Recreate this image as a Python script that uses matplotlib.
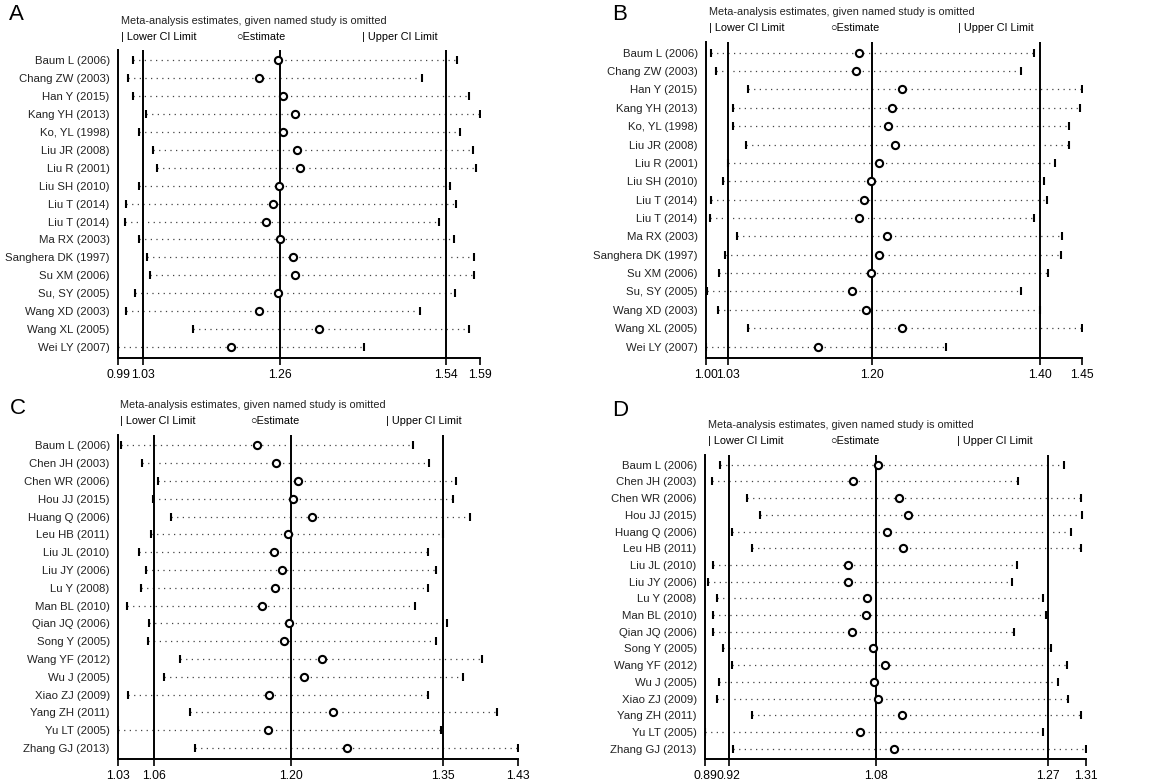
import matplotlib
matplotlib.use('Agg')
import matplotlib.pyplot as plt
import numpy as np

plt.rcParams['font.family'] = ['Liberation Sans', 'DejaVu Sans']

W, H = 1156, 784

# ---- panel A ----
studies_a = ['Baum L (2006)', 'Chang ZW (2003)', 'Han Y (2015)', 'Kang YH (2013)', 'Ko, YL (1998)',
             'Liu JR (2008)', 'Liu R (2001)', 'Liu SH (2010)', 'Liu T (2014)', 'Liu T (2014)',
             'Ma RX (2003)', 'Sanghera DK (1997)', 'Su XM (2006)', 'Su, SY (2005)', 'Wang XD (2003)',
             'Wang XL (2005)', 'Wei LY (2007)']
lower_a = [1.019, 1.010, 1.019, 1.040, 1.029, 1.052, 1.059, 1.029, 1.007, 1.005,
           1.029, 1.042, 1.047, 1.022, 1.007, 1.118, 0.994]
est_a = [1.259, 1.228, 1.268, 1.288, 1.268, 1.291, 1.296, 1.261, 1.251, 1.240,
         1.263, 1.284, 1.288, 1.259, 1.228, 1.327, 1.181]
upper_a = [1.557, 1.498, 1.577, 1.595, 1.562, 1.583, 1.588, 1.545, 1.555, 1.527,
           1.552, 1.585, 1.585, 1.553, 1.495, 1.577, 1.402]
overall_a = [1.035, 1.263, 1.538]
range_a = [0.994, 1.595]

# ---- panel B ----
studies_b = studies_a
lower_b = [1.007, 1.013, 1.051, 1.033, 1.033, 1.049, 1.027, 1.021, 1.007, 1.006,
           1.038, 1.024, 1.017, 1.002, 1.015, 1.051, 1.001]
est_b = [1.185, 1.181, 1.236, 1.224, 1.219, 1.228, 1.209, 1.199, 1.191, 1.185,
         1.218, 1.209, 1.199, 1.176, 1.193, 1.236, 1.135]
upper_b = [1.395, 1.379, 1.452, 1.450, 1.437, 1.437, 1.420, 1.407, 1.410, 1.395,
           1.428, 1.427, 1.411, 1.379, 1.402, 1.452, 1.289]
overall_b = [1.027, 1.200, 1.402]
range_b = [1.001, 1.452]

# ---- panel C ----
studies_c = ['Baum L (2006)', 'Chen JH (2003)', 'Chen WR (2006)', 'Hou JJ (2015)', 'Huang Q (2006)',
             'Leu HB (2011)', 'Liu JL (2010)', 'Liu JY (2006)', 'Lu Y (2008)', 'Man BL (2010)',
             'Qian JQ (2006)', 'Song Y (2005)', 'Wang YF (2012)', 'Wu J (2005)', 'Xiao ZJ (2009)',
             'Yang ZH (2011)', 'Yu LT (2005)', 'Zhang GJ (2013)']
lower_c = [1.030, 1.051, 1.067, 1.062, 1.080, 1.060, 1.048, 1.055, 1.050, 1.036,
           1.058, 1.057, 1.089, 1.073, 1.037, 1.099, 1.027, 1.104]
est_c = [1.166, 1.185, 1.207, 1.202, 1.221, 1.197, 1.183, 1.191, 1.184, 1.171,
         1.198, 1.193, 1.231, 1.213, 1.178, 1.242, 1.177, 1.256]
upper_c = [1.322, 1.338, 1.365, 1.362, 1.379, 1.352, 1.337, 1.345, 1.337, 1.324,
           1.356, 1.345, 1.391, 1.372, 1.337, 1.406, 1.350, 1.427]
overall_c = [1.063, 1.200, 1.352]
range_c = [1.027, 1.427]

# ---- panel D ----
studies_d = studies_c
lower_d = [0.909, 0.900, 0.938, 0.953, 0.922, 0.944, 0.901, 0.895, 0.905, 0.901,
           0.901, 0.912, 0.922, 0.907, 0.905, 0.944, 0.892, 0.923]
est_d = [1.082, 1.055, 1.105, 1.115, 1.092, 1.110, 1.049, 1.049, 1.070, 1.069,
         1.054, 1.077, 1.090, 1.078, 1.082, 1.109, 1.063, 1.100]
upper_d = [1.287, 1.236, 1.305, 1.307, 1.295, 1.305, 1.235, 1.230, 1.264, 1.267,
           1.232, 1.272, 1.290, 1.280, 1.291, 1.305, 1.264, 1.311]
overall_d = [0.918, 1.080, 1.269]
range_d = [0.892, 1.311]


def fx(px):
    return px / W


def fy(py):
    return 1 - py / H


def draw_panel(fig, box, letter, letter_xy, title_xy, legend_x, studies, lower, est, upper, overall, xr):
    left, top, right, bottom = box
    ax = fig.add_axes([fx(left), fy(bottom), fx(right - left), (bottom - top) / H])
    n = len(studies)
    y = np.arange(n)
    for i in range(n):
        ax.plot([lower[i], upper[i]], [y[i], y[i]], color='#444444', lw=0.9,
                linestyle=(0, (1, 3.5)), zorder=1)
    ax.plot(lower, y, linestyle='none', marker='|', ms=5.5, mew=1.5, color='black', zorder=3)
    ax.plot(upper, y, linestyle='none', marker='|', ms=5.5, mew=1.5, color='black', zorder=3)
    ax.plot(est, y, linestyle='none', marker='o', ms=5.2, mfc='white', mew=1.5, color='black', zorder=4)
    for v in overall:
        ax.axvline(v, color='black', lw=1.4, zorder=2)
    ax.set_xlim(xr[0], xr[1])
    ax.set_ylim(n - 1 + 0.62, -0.58)
    ax.set_yticks(y)
    ax.set_yticklabels(studies, fontsize=8.2, color='#222222')
    ax.tick_params(axis='y', length=0, pad=6)
    ticks = [xr[0]] + list(overall) + [xr[1]]
    ax.set_xticks(ticks)
    ax.set_xticklabels(['%.2f' % t for t in ticks], fontsize=8.7)
    ax.tick_params(axis='x', length=5, width=1.2, pad=3)
    for s in ['top', 'right']:
        ax.spines[s].set_visible(False)
    for s in ['left', 'bottom']:
        ax.spines[s].set_linewidth(1.4)
    fig.text(fx(letter_xy[0]), fy(letter_xy[1]), letter, fontsize=16, va='center', ha='left')
    fig.text(fx(title_xy[0]), fy(title_xy[1]), 'Meta-analysis estimates, given named study is omitted',
             fontsize=7.8, va='center', ha='left', color='#222222')
    ly = title_xy[1] + 16
    fig.text(fx(legend_x[0]), fy(ly), '| Lower CI Limit', fontsize=7.8, va='center', ha='left')
    fig.text(fx(legend_x[1]), fy(ly), '\u25cbEstimate', fontsize=7.8, va='center', ha='left')
    fig.text(fx(legend_x[2]), fy(ly), '| Upper CI Limit', fontsize=7.8, va='center', ha='left')
    return ax


fig = plt.figure(figsize=(W / 100, H / 100), dpi=100)

draw_panel(fig, (118, 50, 480, 358), 'A', (9, 15), (121, 21), (121, 236, 362),
           studies_a, lower_a, est_a, upper_a, overall_a, range_a)
draw_panel(fig, (706, 42, 1082, 358), 'B', (612, 14), (709, 12), (709, 830, 958),
           studies_b, lower_b, est_b, upper_b, overall_b, range_b)
draw_panel(fig, (118, 435, 518, 759), 'C', (10, 408), (120, 405), (120, 250, 386),
           studies_c, lower_c, est_c, upper_c, overall_c, range_c)
draw_panel(fig, (705, 455, 1086, 759), 'D', (612, 410), (708, 425), (708, 830, 957),
           studies_d, lower_d, est_d, upper_d, overall_d, range_d)

plt.savefig('out.png', dpi=100)
